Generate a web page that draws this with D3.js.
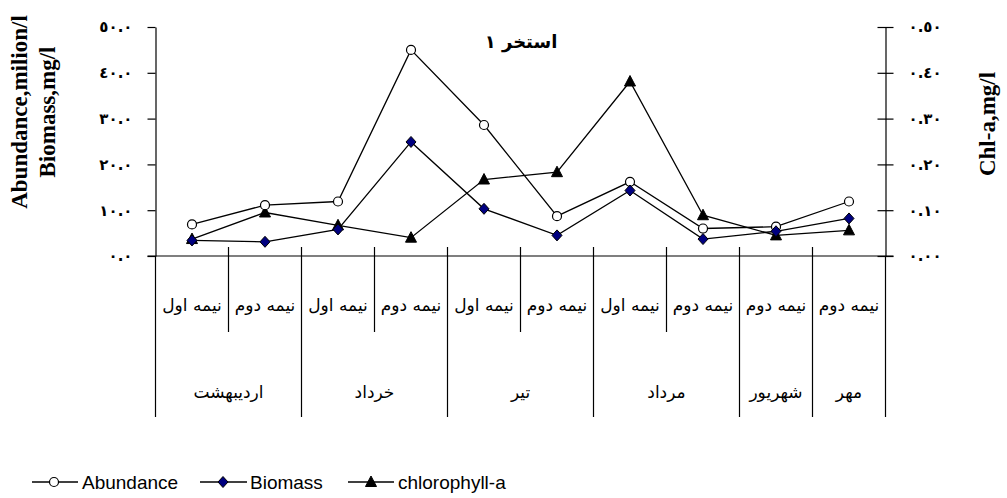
<!DOCTYPE html>
<html><head><meta charset="utf-8">
<script src="https://cdn.jsdelivr.net/npm/d3@7"></script>
<style>body{margin:0;background:#fff}svg{display:block}</style>
</head><body>
<svg id="c" width="1007" height="498"></svg>
<script>
const categories = ["نیمه اول","نیمه دوم","نیمه اول","نیمه دوم","نیمه اول","نیمه دوم","نیمه اول","نیمه دوم","نیمه دوم","نیمه دوم"];
const months = ["اردیبهشت","خرداد","تیر","مرداد","شهریور","مهر"];
const monthSpans = [2,2,2,2,1,1];
const abundance = [6.9, 11.1, 11.9, 45.0, 28.6, 8.7, 16.2, 6.0, 6.4, 11.9];
const biomass = [3.4, 3.1, 5.8, 24.9, 10.3, 4.5, 14.3, 3.7, 5.4, 8.2];
const chla = [0.037, 0.095, 0.067, 0.040, 0.167, 0.183, 0.381, 0.089, 0.045, 0.056];
const leftTicks = [0, 10, 20, 30, 40, 50];
const leftTickLabels = ["٠.٠","١٠.٠","٢٠.٠","٣٠.٠","٤٠.٠","٥٠.٠"];
const rightTicks = [0, 0.1, 0.2, 0.3, 0.4, 0.5];
const rightTickLabels = ["٠.٠٠","٠.١٠","٠.٢٠","٠.٣٠","٠.٤٠","٠.٥٠"];
const title = "استخر ١";
const leftTitle = ["Abundance,milion/l","Biomass,mg/l"];
const rightTitle = "Chl-a,mg/l";
const seriesNames = ["Abundance","Biomass","chlorophyll-a"];

const svg = d3.select("#c");
const L = 155.5, R = 885.5, T = 27, B = 256;
const x = d3.scaleBand().domain(d3.range(categories.length)).range([L, R]).padding(0);
const yL = d3.scaleLinear().domain([0, 50]).range([B, T]);
const yR = d3.scaleLinear().domain([0, 0.5]).range([B, T]);
const cx = i => x(i) + x.bandwidth() / 2;

const serif = "'Liberation Serif','Times New Roman',serif";
const arab = "'DejaVu Sans',sans-serif";

// left axis
const gl = svg.append("g").attr("transform", `translate(${L},0)`)
  .call(d3.axisLeft(yL).tickValues(leftTicks).tickSize(8).tickSizeOuter(0).tickPadding(15)
    .tickFormat((d, i) => leftTickLabels[i]));
gl.selectAll("path,line").attr("stroke", "#000").attr("stroke-width", 1.2);
gl.selectAll("text").attr("font-family", arab).attr("font-weight", "bold").attr("font-size", 15).attr("fill", "#000");

// right axis
const gr = svg.append("g").attr("transform", `translate(${R},0)`)
  .call(d3.axisRight(yR).tickValues(rightTicks).tickSize(8).tickSizeOuter(0).tickPadding(15)
    .tickFormat((d, i) => rightTickLabels[i]));
gr.selectAll("path,line").attr("stroke", "#000").attr("stroke-width", 1.2);
gr.selectAll(".tick line").attr("x1", -8);
gr.selectAll("text").attr("font-family", arab).attr("font-weight", "bold").attr("font-size", 15).attr("fill", "#000");

// x axis line
svg.append("line").attr("x1", L - 8).attr("x2", R + 8).attr("y1", B).attr("y2", B)
  .attr("stroke", "#000").attr("stroke-width", 1.2);

// category separators
const monthBounds = [0];
monthSpans.forEach((s, i) => monthBounds.push(monthBounds[i] + s));
d3.range(categories.length + 1).forEach(k => {
  const xx = k < categories.length ? x(k) : R;
  const isMonth = monthBounds.includes(k);
  svg.append("line").attr("x1", xx).attr("x2", xx)
    .attr("y1", (k === 0 || k === categories.length) ? B : B - 9)
    .attr("y2", isMonth ? 417 : 332)
    .attr("stroke", "#000").attr("stroke-width", 1.2);
});

// category labels
svg.append("g").selectAll("text").data(categories).join("text")
  .attr("x", (d, i) => cx(i)).attr("y", 311).attr("text-anchor", "middle")
  .attr("font-family", arab).attr("font-size", 17).attr("fill", "#000").text(d => d);

// month labels
svg.append("g").selectAll("text").data(months).join("text")
  .attr("x", (d, i) => {
    const a = monthBounds[i], b = monthBounds[i + 1];
    const x0 = x(a), x1 = b < categories.length ? x(b) : R;
    return (x0 + x1) / 2;
  })
  .attr("y", 398).attr("text-anchor", "middle")
  .attr("font-family", arab).attr("font-size", 17).attr("fill", "#000").text(d => d);

// lines
const lineL = d3.line().x((d, i) => cx(i)).y(d => yL(d));
const lineR = d3.line().x((d, i) => cx(i)).y(d => yR(d));
[[abundance, lineL], [biomass, lineL], [chla, lineR]].forEach(([data, gen]) => {
  svg.append("path").attr("d", gen(data)).attr("fill", "none").attr("stroke", "#000").attr("stroke-width", 1.3);
});

function drawCircle(g, px, py) {
  g.append("circle").attr("cx", px).attr("cy", py).attr("r", 4.5).attr("fill", "#fff").attr("stroke", "#000").attr("stroke-width", 1.2);
}
function drawDiamond(g, px, py) {
  g.append("path").attr("d", `M${px},${py-5.5}L${px+5},${py}L${px},${py+5.5}L${px-5},${py}Z`)
    .attr("fill", "#000080").attr("stroke", "#000").attr("stroke-width", 1);
}
function drawTri(g, px, py) {
  g.append("path").attr("d", `M${px},${py-6}L${px+5.5},${py+4.5}L${px-5.5},${py+4.5}Z`)
    .attr("fill", "#000").attr("stroke", "#000").attr("stroke-width", 1);
}
const gm = svg.append("g");
chla.forEach((d, i) => drawTri(gm, cx(i), yR(d)));
abundance.forEach((d, i) => drawCircle(gm, cx(i), yL(d)));
biomass.forEach((d, i) => drawDiamond(gm, cx(i), yL(d)));

// title
svg.append("text").attr("x", 521).attr("y", 48).attr("text-anchor", "middle")
  .attr("font-family", arab).attr("font-weight", "bold").attr("font-size", 18).attr("fill", "#000").text(title);

// axis titles
svg.append("text").attr("transform", "translate(27,112) rotate(-90)").attr("text-anchor", "middle")
  .attr("font-family", serif).attr("font-weight", "bold").attr("font-size", 23).attr("fill", "#000").text(leftTitle[0]);
svg.append("text").attr("transform", "translate(55,112) rotate(-90)").attr("text-anchor", "middle")
  .attr("font-family", serif).attr("font-weight", "bold").attr("font-size", 23).attr("fill", "#000").text(leftTitle[1]);
svg.append("text").attr("transform", "translate(995,124) rotate(-90)").attr("text-anchor", "middle")
  .attr("font-family", serif).attr("font-weight", "bold").attr("font-size", 23).attr("fill", "#000").text(rightTitle);

// legend
const legY = 482;
const legItems = [
  {x0: 32, x1: 78, mx: 54, tx: 82, draw: drawCircle},
  {x0: 200, x1: 247, mx: 223, tx: 250, draw: drawDiamond},
  {x0: 348, x1: 394, mx: 371, tx: 398, draw: drawTri}
];
const glg = svg.append("g");
legItems.forEach((it, i) => {
  glg.append("line").attr("x1", it.x0).attr("x2", it.x1).attr("y1", legY).attr("y2", legY).attr("stroke", "#000").attr("stroke-width", 1.3);
  it.draw(glg, it.mx, legY);
  glg.append("text").attr("x", it.tx).attr("y", legY + 6.5).attr("font-family", "'Liberation Sans',Arial,sans-serif")
    .attr("font-size", 19).attr("fill", "#000").text(seriesNames[i]);
});
</script>
</body></html>
